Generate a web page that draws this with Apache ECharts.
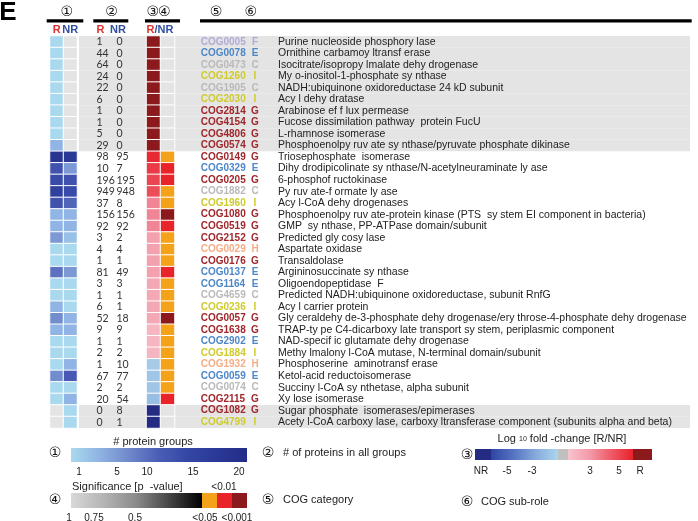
<!DOCTYPE html>
<html><head><meta charset="utf-8">
<script src="https://cdn.jsdelivr.net/npm/echarts@6/dist/echarts.min.js"></script>
<style>html,body{margin:0;padding:0;background:#fff}#c{width:698px;height:521px}</style>
</head><body><div id="c"></div>
<script>
// ---------------- DATA ----------------
const cogIds = ['COG0005','COG0078','COG0473','COG1260','COG1905','COG2030','COG2814','COG4154','COG4806','COG0574',
 'COG0149','COG0329','COG0205','COG1882','COG1960','COG1080','COG0519','COG2152','COG0029','COG0176','COG0137',
 'COG1164','COG4659','COG0236','COG0057','COG1638','COG2902','COG1884','COG1932','COG0059','COG0074','COG2115',
 'COG1082','COG4799'];
const cogCats = ['F','E','C','I','C','I','G','G','G','G',
 'G','E','G','C','I','G','G','G','H','G','E',
 'E','C','I','G','G','E','I','H','E','C','G',
 'G','I'];
const subRoles = [
 'Purine nucleoside phosphory lase',
 'Ornithine carbamoy ltransf erase',
 'Isocitrate/isopropy lmalate dehy drogenase',
 'My o-inositol-1-phosphate sy nthase',
 'NADH:ubiquinone oxidoreductase 24 kD subunit',
 'Acy l dehy dratase',
 'Arabinose ef f lux permease',
 'Fucose dissimilation pathway  protein FucU',
 'L-rhamnose isomerase',
 'Phosphoenolpy ruv ate sy nthase/pyruvate phosphate dikinase',
 'Triosephosphate  isomerase',
 'Dihy drodipicolinate sy nthase/N-acetylneuraminate ly ase',
 '6-phosphof ructokinase',
 'Py ruv ate-f ormate ly ase',
 'Acy l-CoA dehy drogenases',
 'Phosphoenolpy ruv ate-protein kinase (PTS  sy stem EI component in bacteria)',
 'GMP  sy nthase, PP-ATPase domain/subunit',
 'Predicted gly cosy lase',
 'Aspartate oxidase',
 'Transaldolase',
 'Argininosuccinate sy nthase',
 'Oligoendopeptidase  F',
 'Predicted NADH:ubiquinone oxidoreductase, subunit RnfG',
 'Acy l carrier protein',
 'Gly ceraldehy de-3-phosphate dehy drogenase/ery throse-4-phosphate dehy drogenase',
 'TRAP-ty pe C4-dicarboxy late transport sy stem, periplasmic component',
 'NAD-specif ic glutamate dehy drogenase',
 'Methy lmalony l-CoA mutase, N-terminal domain/subunit',
 'Phosphoserine  aminotransf erase',
 'Ketol-acid reductoisomerase',
 'Succiny l-CoA sy nthetase, alpha subunit',
 'Xy lose isomerase',
 'Sugar phosphate  isomerases/epimerases',
 'Acety l-CoA carboxy lase, carboxy ltransferase component (subunits alpha and beta)'
];
// (1) # protein groups (estimated from colour)
const groupsR  = [1,1,1,1,1,1,1,1,1,4, 18,12,13,15,12,4,4,6,1,1,9, 1,1,4,7,4,1,1,1,7,1,1, 0,0];
const groupsNR = [0,0,0,0,0,0,0,0,0,0, 17,6,12,13,10,4,4,3,1,1,6, 1,1,1,4,4,1,1,4,11,1,4, 1,1];
// (2) # of proteins in all groups
const proteinsR  = [1,44,64,24,22,6,1,1,5,29, 98,10,196,949,37,156,92,3,4,1,81, 3,1,6,52,9,1,2,1,67,2,20, 0,0];
const proteinsNR = [0,0,0,0,0,0,0,0,0,0, 95,7,195,948,8,156,92,2,4,1,49, 3,1,1,18,9,1,2,10,77,2,54, 8,1];
// (3) log10 fold change R/NR ; R_ONLY / NR_ONLY = detected only in one group
const R_ONLY = 7, NR_ONLY = -7;
const log10FC = [R_ONLY,R_ONLY,R_ONLY,R_ONLY,R_ONLY,R_ONLY,R_ONLY,R_ONLY,R_ONLY,R_ONLY,
 5.8,5.3,5.0,4.8,3.4,3.4,3.4,2.6,2.6,2.6,2.6,
 2.3,2.3,2.3,2.3,1.8,1.8,1.8,-1.5,-1.7,-1.7,-2.0,
 NR_ONLY,NR_ONLY];
// (4) significance (p-value); null = not tested
const pValues = [null,null,null,null,null,null,null,null,null,null,
 0.03,0.005,0.005,0.03,0.03,0.0005,0.005,0.03,0.03,0.03,0.005,
 0.03,0.03,0.03,0.0005,0.03,0.03,0.03,0.03,0.03,0.03,0.005,
 null,null];
// detection group of each row
const detectedIn = ['R','R','R','R','R','R','R','R','R','R',
 'both','both','both','both','both','both','both','both','both','both','both',
 'both','both','both','both','both','both','both','both','both','both','both',
 'NR','NR'];
const groupLabels = ['R','NR'];
// legend tick labels
const groupTicks = ['1','5','10','15','20'];
const fcTicks = ['NR','-5','-3','3','5','R'];
const pTicks = ['1','0.75','0.5','<0.05','<0.001'];

// ---------------- STYLE ----------------
const catColor = {F:'#b3a9d6',E:'#4d87c7',C:'#b9b9b9',I:'#cfcb2e',G:'#a0272b',H:'#f4ad85'};
const groupColors = ['#a9d9ee','#8fb2e2','#6f87cb','#4a5db5','#3446a4','#2a3896','#232d88'];
const fcColors = ['#232c82','#3349a8','#4b67ba','#6686c8','#7fa2d8','#98bee4','#b4d8ee','#c0c0c0',
  '#f6c8d2','#f5b0bd','#f296a5','#ee6e7c','#ea4550','#e5222a','#8c1a1d'];
const EMPTY = '#e4e4e4';
const RED = '#e0312f', BLUE = '#2f4f9f';
const SANS = '"Liberation Sans", Arial, sans-serif';
const TOP = 36, ROW_H = 11.53, H = cogIds.length * ROW_H;

const chart = echarts.init(document.getElementById('c'));
const rows = cogIds.map((_, i) => i);

function textAxis(offset, formatter, extra) {
  return {type:'category', gridIndex:0, data:cogIds, inverse:true, position:'right', offset, z:10,
    axisLine:{show:false}, axisTick:{show:false}, splitLine:{show:false},
    axisLabel:Object.assign({interval:0, margin:0, align:'left', formatter}, extra)};
}
const catRich = {};
Object.keys(catColor).forEach(k => catRich[k] = {color:catColor[k], fontWeight:'bold', fontSize:10, fontFamily:SANS});

function t(text, x, y, o) {
  return {type:'text', z:20, style:Object.assign({text, x, y, fill:'#222', fontSize:11, fontFamily:SANS,
    align:'center', verticalAlign:'middle'}, o || {})};
}
function circ(ch, x, y) { return t(ch, x, y, {fontSize:14, fontFamily:'"DejaVu Sans", sans-serif', fill:'#111'}); }
function rect(x, y, w, h, fill) { return {type:'rect', z:20, shape:{x, y, width:w, height:h}, style:{fill}}; }
function grad(stops) { return new echarts.graphic.LinearGradient(0,0,1,0, stops.map((c,i)=>({offset:i/(stops.length-1), color:c}))); }
const hdrRich = {r:{fill:RED, fontWeight:'bold', fontSize:11, fontFamily:SANS}, b:{fill:BLUE, fontWeight:'bold', fontSize:11, fontFamily:SANS}};
const axisHdrRich = {r:{color:RED, fontWeight:'bold', fontSize:11, fontFamily:SANS}, b:{color:BLUE, fontWeight:'bold', fontSize:11, fontFamily:SANS}};

const graphics = [
  t('E', 8, 13, {fontSize:26, fontWeight:'bold', fill:'#000'}),
  circ('①', 66.7, 12.7), circ('②', 111.5, 12.7), circ('③', 152.7, 12.7), circ('④', 164.3, 12.7),
  circ('⑤', 216, 12.7), circ('⑥', 250.7, 12.7),
  rect(46.7, 19.3, 36.6, 3.2, '#000'), rect(93.3, 19.3, 35, 3.2, '#000'),
  rect(145, 19.3, 35, 3.2, '#000'), rect(200, 19.3, 491.7, 3.2, '#000'),
  {type:'text', z:20, style:{text:'{r|R}', x:96.5, y:30, rich:hdrRich, verticalAlign:'middle'}},
  {type:'text', z:20, style:{text:'{b|NR}', x:110, y:30, rich:hdrRich, verticalAlign:'middle'}},
  {type:'text', z:20, style:{text:'{r|R}{b|/NR}', x:160, y:30, align:'center', verticalAlign:'middle', rich:hdrRich}},
  // legend 1
  circ('①', 55, 453),
  t('# protein groups', 153, 442),
  rect(71, 448, 176, 14, grad(groupColors)),
  // legend 4
  circ('④', 55, 500),
  t('Significance [p  -value]', 72, 487, {align:'left'}),
  t('<0.01', 224, 487, {fontSize:10}),
  rect(71, 493, 131, 15, grad(['#d8d8d8','#b4b4b4','#8a8a8a','#454545','#000000'])),
  rect(202, 493, 15, 15, '#f5a21b'), rect(217, 493, 15, 15, '#e8242a'), rect(232, 493, 15, 15, '#8c1a1d'),
  // legend 2,5
  circ('②', 268, 453), t('# of proteins in all groups', 283, 453, {align:'left'}),
  circ('⑤', 268, 500), t('COG category', 283, 500, {align:'left'}),
  // legend 3
  circ('③', 467, 455),
  {type:'text', z:20, style:{text:'{a|Log }{s|10}{a| fold -change [R/NR]}', x:562, y:439, align:'center', verticalAlign:'middle',
    rich:{a:{fontSize:11, fontFamily:SANS, fill:'#222'}, s:{fontSize:7, fontFamily:SANS, fill:'#222'}}}},
  rect(475, 449, 16, 11, fcColors[0]),
  rect(491, 449, 67, 11, grad(['#2f45a5','#5573c2','#86aadb','#aad6ee'])),
  rect(558, 449, 10, 11, '#c0c0c0'),
  rect(568, 449, 65, 11, grad(['#f8c4cf','#f39aaa','#ee5a66','#e8222a'])),
  rect(633, 449, 19, 11, fcColors[14]),
  circ('⑥', 467, 502), t('COG sub-role', 481, 502, {align:'left'})
];
// tick labels of legends
const gx = [79,117,147,193,239];
groupTicks.forEach((s,i) => graphics.push(t(s, gx[i], 472, {fontSize:10})));
const fx = [481,507,532,590,619,640];
fcTicks.forEach((s,i) => graphics.push(t(s, fx[i], 471, {fontSize:10})));
const px = [69,94,135,205,237];
pTicks.forEach((s,i) => graphics.push(t(s, px[i], 518, {fontSize:10})));

const numStyle = {color:'#333', fontSize:10.5, fontFamily:'Lato, sans-serif'};
const option = {
  animation:false,
  backgroundColor:'#fff',
  grid:[
    {left:50, top:TOP, width:27, height:H},
    {left:146.5, top:TOP, width:28, height:H},
    {left:79, top:TOP, width:611, height:H}
  ],
  xAxis:[
    {type:'category', gridIndex:0, data:groupLabels, position:'top',
      axisLine:{show:false}, axisTick:{show:false}, splitLine:{show:false},
      axisLabel:{margin:1, interval:0, rich:axisHdrRich, formatter:v => (v === 'R' ? '{r|' : '{b|') + v + '}'}},
    {type:'category', gridIndex:1, data:['fc','p'], show:false},
    {type:'value', gridIndex:2, min:0, max:1, show:false}
  ],
  yAxis:[
    {type:'category', gridIndex:0, data:cogIds, inverse:true, show:false},
    {type:'category', gridIndex:1, data:cogIds, inverse:true, show:false},
    {type:'category', gridIndex:2, data:cogIds, inverse:true, show:false},
    textAxis(19.5, (v,i) => String(proteinsR[i]), numStyle),
    textAxis(39.5, (v,i) => String(proteinsNR[i]), numStyle),
    textAxis(123.7, (v,i) => '{' + cogCats[i] + '|' + v + '}', {rich:catRich}),
    textAxis(178, (v,i) => '{' + cogCats[i] + '|' + cogCats[i] + '}', {rich:catRich, align:'center'}),
    textAxis(201, (v,i) => subRoles[i], {color:'#222', fontSize:10.5, fontFamily:SANS})
  ],
  visualMap:[
    {type:'continuous', seriesIndex:0, min:1, max:20, range:[1,20], unboundedRange:false, show:false,
      inRange:{color:groupColors}, outOfRange:{color:EMPTY}},
    {type:'continuous', seriesIndex:1, min:-7, max:7, show:false, inRange:{color:fcColors}},
    {type:'piecewise', seriesIndex:2, show:false, pieces:[
      {value:-1, color:EMPTY},
      {gte:0, lt:0.001, color:'#8c1a1d'},
      {gte:0.001, lt:0.01, color:'#e8242a'},
      {gte:0.01, lt:0.05, color:'#f5a21b'},
      {gte:0.05, color:'#c8c8c8'}]}
  ],
  series:[
    {type:'heatmap', xAxisIndex:0, yAxisIndex:0, z:3,
      itemStyle:{borderColor:'#fff', borderWidth:1},
      data: rows.flatMap(i => [[0,i,groupsR[i]],[1,i,groupsNR[i]]])},
    {type:'heatmap', xAxisIndex:1, yAxisIndex:1, z:3,
      itemStyle:{borderColor:'#fff', borderWidth:1},
      data: rows.map(i => [0,i,log10FC[i]])},
    {type:'heatmap', xAxisIndex:1, yAxisIndex:1, z:3,
      itemStyle:{borderColor:'#fff', borderWidth:1},
      data: rows.map(i => [1,i,pValues[i] === null ? -1 : pValues[i]])},
    {type:'bar', xAxisIndex:2, yAxisIndex:2, z:1, silent:true, barCategoryGap:'0%',
      itemStyle:{color:EMPTY},
      data: detectedIn.map(d => d === 'both' ? 0 : 1)}
  ],
  graphic:graphics
};
chart.setOption(option);
</script></body></html>
